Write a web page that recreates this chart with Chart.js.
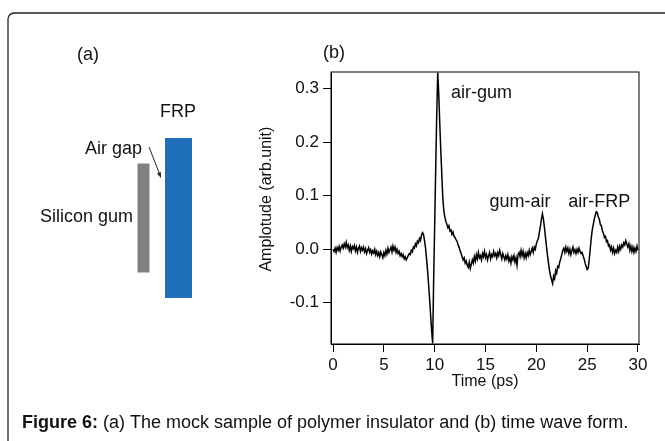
<!DOCTYPE html>
<html>
<head>
<meta charset="utf-8">
<script src="https://cdn.jsdelivr.net/npm/chart.js@4.4.1/dist/chart.umd.min.js"></script>
<style>
  html, body { margin: 0; padding: 0; background: #fff; }
  canvas { display: block; }
</style>
</head>
<body>
<canvas id="wave-chart" width="665" height="441"></canvas>
<script>
const sampleStep = 0.1;
const amplitude = [
  0.000, -0.004, 0.002, -0.006, 0.003, -0.002, 0.005, -0.003, 0.004, 0.008,
  0.002, 0.010, 0.004, 0.013, 0.003, 0.008, -0.002, 0.006, -0.004, 0.005,
  0.001, 0.007, -0.003, 0.004, -0.006, 0.002, 0.006, -0.004, 0.003, -0.002,
  0.004, -0.005, 0.001, -0.008, -0.002, 0.003, -0.006, -0.001, -0.009, -0.003,
  -0.007, 0.000, -0.010, -0.004, -0.012, -0.006, -0.014, -0.005, -0.010, -0.016,
  -0.006, -0.012, -0.002, -0.009, 0.002, -0.006, -0.001, 0.004, -0.005, 0.006,
  -0.002, 0.004, -0.006, 0.000, -0.008, -0.004, -0.012, -0.008, -0.014, -0.010,
  -0.018, -0.014, -0.020, -0.016, -0.012, -0.008, -0.010, -0.002, -0.005, 0.004,
  0.002, 0.010, 0.006, 0.015, 0.012, 0.020, 0.016, 0.026, 0.031, 0.028,
  0.016, 0.002, -0.018, -0.040, -0.065, -0.093, -0.123, -0.152, -0.176, -0.055,
  0.045, 0.150, 0.250, 0.330, 0.290, 0.235, 0.185, 0.140, 0.095, 0.072,
  0.060, 0.052, 0.046, 0.040, 0.044, 0.034, 0.036, 0.028, 0.032, 0.024,
  0.022, 0.018, 0.015, 0.008, 0.004, -0.003, -0.008, -0.014, -0.020, -0.016,
  -0.026, -0.022, -0.030, -0.034, -0.024, -0.036, -0.028, -0.020, -0.026, -0.014,
  -0.022, -0.010, -0.018, -0.006, -0.016, -0.012, -0.020, -0.008, -0.014, -0.004,
  -0.016, -0.010, -0.020, -0.012, -0.006, -0.018, -0.010, -0.014, -0.004, -0.012,
  -0.008, -0.016, -0.006, -0.012, -0.002, -0.010, -0.018, -0.008, -0.014, -0.020,
  -0.012, -0.018, -0.010, -0.022, -0.016, -0.026, -0.014, -0.020, -0.012, -0.024,
  -0.016, -0.030, -0.010, -0.006, -0.014, -0.002, -0.012, -0.004, -0.016, -0.008,
  -0.016, -0.006, -0.012, -0.002, -0.010, -0.004, 0.002, -0.006, 0.004, 0.000,
  0.010, 0.016, 0.020, 0.032, 0.042, 0.056, 0.066, 0.056, 0.040, 0.022,
  0.005, -0.012, -0.026, -0.040, -0.050, -0.057, -0.064, -0.050, -0.055, -0.040,
  -0.045, -0.032, -0.034, -0.024, -0.018, -0.010, -0.002, 0.002, -0.006, 0.004,
  -0.004, 0.002, -0.008, 0.000, -0.010, -0.002, 0.004, -0.006, -0.001, -0.008,
  0.000, -0.006, 0.002, -0.004, -0.008, -0.006, -0.012, -0.018, -0.026, -0.032,
  -0.038, -0.036, -0.020, 0.000, 0.020, 0.036, 0.046, 0.056, 0.064, 0.070,
  0.068, 0.060, 0.056, 0.046, 0.044, 0.034, 0.030, 0.022, 0.024, 0.014,
  0.016, 0.006, 0.008, -0.002, 0.004, -0.006, 0.002, -0.008, -0.002, -0.006,
  0.004, -0.004, 0.006, 0.000, 0.008, 0.004, 0.012, 0.008, 0.016, 0.010,
  0.004, 0.010, -0.002, 0.006, -0.004, 0.004, -0.006, 0.002, -0.004, 0.006,
  -0.002
];
const times = amplitude.map((_, i) => +(i * sampleStep).toFixed(1));

const timeTicks = [0, 5, 10, 15, 20, 25, 30];
const ampTicks = [-0.1, 0.0, 0.1, 0.2, 0.3];

// peak labels (data coordinates)
const noteLabels = ['air-gum', 'gum-air', 'air-FRP'];
const noteTimes = [14.6, 18.4, 26.2];
const noteAmps = [0.292, 0.088, 0.088];

const FONT = '"Liberation Sans", Arial, sans-serif';

// draws the frame, the sample sketch (a), labels and the caption
const figurePlugin = {
    id: 'figureDecor',
    afterDraw(chart) {
        const ctx = chart.ctx;
        const area = chart.chartArea;
        const xs = chart.scales.x, ys = chart.scales.y;
        ctx.save();

        // outer box (top + left, rounded corner)
        ctx.strokeStyle = '#222';
        ctx.lineWidth = 1.3;
        ctx.beginPath();
        ctx.moveTo(8, 441);
        ctx.lineTo(8, 19);
        ctx.arcTo(8, 13, 14, 13, 6);
        ctx.lineTo(665, 13);
        ctx.stroke();

        // plot frame
        ctx.strokeStyle = '#000';
        ctx.lineWidth = 1;
        ctx.strokeRect(area.left, area.top, area.right - area.left, area.bottom - area.top);

        ctx.fillStyle = '#111';
        ctx.textBaseline = 'middle';
        ctx.font = '18px ' + FONT;
        ctx.textAlign = 'center';
        ctx.fillText('(a)', 88, 55);
        ctx.fillText('(b)', 334, 53);
        ctx.fillText('FRP', 178, 112);
        ctx.textAlign = 'right';
        ctx.fillText('Air gap', 142, 149);
        ctx.fillText('Silicon gum', 133, 217);

        // sample sketch
        ctx.fillStyle = '#808080';
        ctx.fillRect(137.5, 163.5, 12, 109);
        ctx.fillStyle = '#1e6fb9';
        ctx.fillRect(165, 138, 27, 160);

        // arrow to the air gap
        ctx.strokeStyle = '#222';
        ctx.lineWidth = 1;
        ctx.beginPath();
        ctx.moveTo(149, 147);
        ctx.lineTo(160, 175);
        ctx.stroke();
        const ang = Math.atan2(178 - 147, 161 - 149);
        ctx.fillStyle = '#222';
        ctx.beginPath();
        ctx.moveTo(161, 178);
        ctx.lineTo(161 - 6 * Math.cos(ang - 0.35), 178 - 6 * Math.sin(ang - 0.35));
        ctx.lineTo(161 - 6 * Math.cos(ang + 0.35), 178 - 6 * Math.sin(ang + 0.35));
        ctx.closePath();
        ctx.fill();

        // peak labels
        ctx.fillStyle = '#111';
        ctx.textAlign = 'center';
        ctx.font = '18px ' + FONT;
        noteLabels.forEach((txt, i) => {
            ctx.fillText(txt, xs.getPixelForValue(noteTimes[i]), ys.getPixelForValue(noteAmps[i]));
        });

        // caption
        ctx.textAlign = 'left';
        ctx.font = 'bold 18px ' + FONT;
        const lead = 'Figure 6:';
        ctx.fillText(lead, 22, 423);
        const w = ctx.measureText(lead).width;
        ctx.font = '18px ' + FONT;
        ctx.fillText(' (a) The mock sample of polymer insulator and (b) time wave form.', 22 + w, 423);

        ctx.restore();
    }
};

const ctx = document.getElementById('wave-chart').getContext('2d');
const waveChart = new Chart(ctx, {
    type: 'line',
    data: {
        labels: times,
        datasets: [{
            label: 'Amplitude',
            data: times.map((t, i) => ({ x: t, y: amplitude[i] })),
            borderColor: '#000',
            borderWidth: 1.5,
            pointRadius: 0,
            tension: 0,
            fill: false
        }]
    },
    options: {
        responsive: false,
        animation: false,
        layout: { padding: { left: 254, right: 26, top: 72, bottom: 47 } },
        plugins: {
            legend: { display: false },
            tooltip: { enabled: false }
        },
        scales: {
            x: {
                type: 'linear',
                min: -0.2,
                max: 30.1,
                afterBuildTicks: (scale) => { scale.ticks = timeTicks.map(v => ({ value: v })); },
                afterFit: (scale) => { scale.height = 50; },
                grid: { drawOnChartArea: false, drawTicks: true, tickLength: 8, color: '#000', lineWidth: 1 },
                border: { display: true, color: '#000', width: 1 },
                ticks: { color: '#111', font: { family: FONT, size: 17 }, padding: 3, maxRotation: 0, autoSkip: false },
                title: { display: true, text: 'Time (ps)', color: '#111', font: { family: FONT, size: 16 }, padding: { top: 0, bottom: 3 } }
            },
            y: {
                min: -0.177,
                max: 0.331,
                afterBuildTicks: (scale) => { scale.ticks = ampTicks.map(v => ({ value: v })); },
                afterFit: (scale) => { scale.width = 77; },
                grid: { drawOnChartArea: false, drawTicks: true, tickLength: 8, color: '#000', lineWidth: 1 },
                border: { display: true, color: '#000', width: 1 },
                ticks: { color: '#111', font: { family: FONT, size: 17 }, padding: 4, callback: (v) => v.toFixed(1) },
                title: { display: true, text: '    Amplotude (arb.unit)', color: '#111', font: { family: FONT, size: 16 }, padding: { top: 3, bottom: 0 } }
            }
        }
    },
    plugins: [figurePlugin]
});
</script>
</body>
</html>
